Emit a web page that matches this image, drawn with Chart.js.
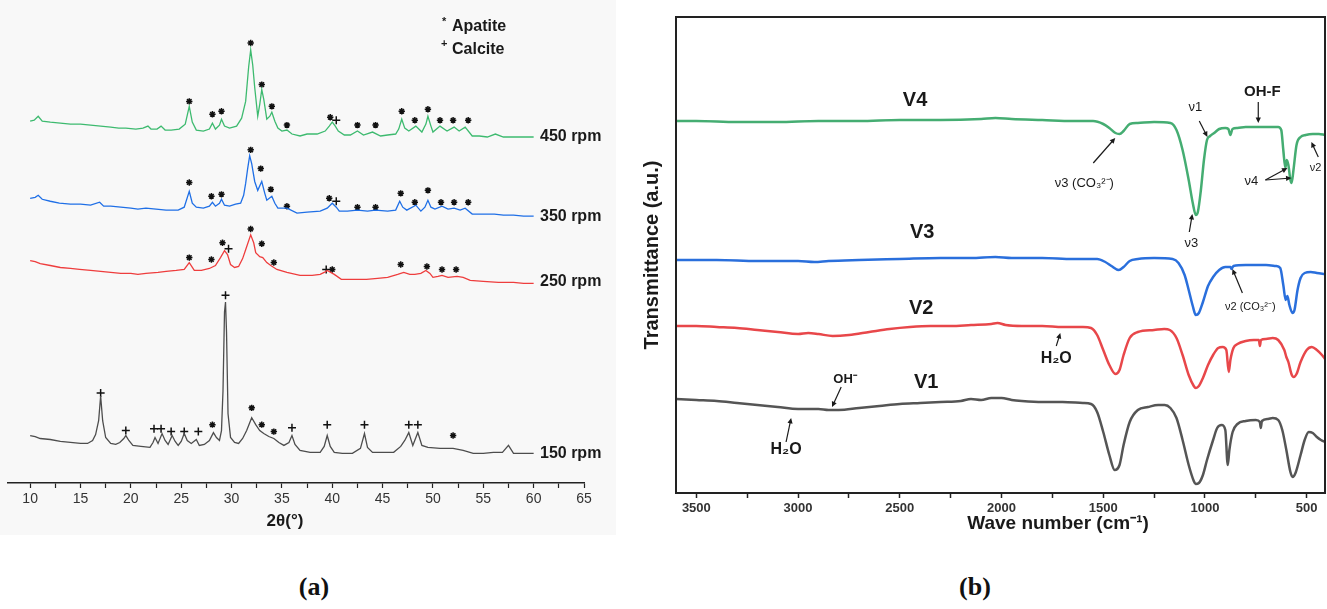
<!DOCTYPE html>
<html>
<head>
<meta charset="utf-8">
<script src="https://cdn.jsdelivr.net/npm/chart.js@4.4.1/dist/chart.umd.min.js"></script>
<style>
  body { margin:0; background:#fff; width:1327px; height:609px; position:relative; overflow:hidden; font-family:"Liberation Sans", Arial, sans-serif; }
  #xrdBg { position:absolute; left:0; top:0; width:616px; height:535px; background:#f8f8f8; }
  #xrd { position:absolute; left:0; top:0; }
  #ftir { position:absolute; left:630px; top:0; }
  .cap { position:absolute; top:572px; width:100px; text-align:center; font:bold 26px "Liberation Serif", "Times New Roman", serif; color:#111; }
</style>
</head>
<body>
<div id="xrdBg"></div>
<canvas id="xrd" width="620" height="540"></canvas>
<canvas id="ftir" width="697" height="540"></canvas>
<div class="cap" style="left:264px">(a)</div>
<div class="cap" style="left:925px">(b)</div>
<script>
// ---- (a) XRD patterns: [2theta, stacked intensity a.u.] ----
var xrd150 = [[10,48],[10.5,47],[11,45],[12,44],[13,42],[14,41],[15,40],[15.7,40],[16.2,43],[16.5,49],[16.8,63],[17,88],[17.2,63],[17.5,46],[18,40],[18.5,39],[18.9,41],[19.3,45],[19.5,48],[19.8,43],[20.2,38],[21,37],[21.9,36],[22.2,41],[22.4,46],[22.7,40],[23.1,50],[23.4,43],[23.7,39],[24.1,48],[24.4,42],[24.7,38],[25,42],[25.3,50],[25.6,43],[26,40],[26.5,44],[26.8,38],[27.3,39],[27.8,43],[28.2,51],[28.5,46],[28.8,43],[29,53],[29.15,93],[29.3,173],[29.4,183],[29.5,153],[29.65,70],[29.9,46],[30.3,41],[30.7,40],[31.1,45],[31.5,53],[32,66],[32.4,59],[32.8,53],[33.2,50],[33.7,47],[34.2,45],[34.7,41],[35.2,38],[35.7,41],[36,48],[36.3,39],[36.8,33],[37.8,31],[38.8,31],[39.2,37],[39.5,48],[39.8,37],[40.2,31],[41,30],[42,30],[42.8,35],[43.2,50],[43.5,36],[44,31],[45,31],[46.1,31],[46.8,37],[47.2,43],[47.6,51],[48,38],[48.5,51],[48.9,38],[49.5,36],[50.7,35],[52,35],[53,33],[54,30],[55,30],[56,31],[56.9,31],[57.5,38],[58,30],[59,30],[60,30]];
var xrd250 = [[10,225],[10.5,224],[11,222],[12,220],[13,218],[14,217],[14.9,216],[16,215],[17,214],[18,213],[19,212],[20,212],[20.7,211],[21.5,212],[22.7,213],[23.5,214],[24.5,215],[25.3,216],[25.8,223],[26.3,215],[27,215],[27.8,217],[28.4,220],[28.9,228],[29.3,235],[29.6,231],[29.9,221],[30.3,218],[30.7,219],[31.1,227],[31.4,236],[31.9,251],[32.2,243],[32.4,233],[32.8,229],[33.1,228],[33.5,223],[33.9,220],[34.5,216],[35.5,213],[36.8,210],[38,210],[38.8,211],[39.2,213],[39.5,215],[40.2,211],[40.9,206],[42,206],[43.4,206],[44.5,207],[45.5,208],[46.5,211],[47.1,213],[47.7,211],[48.2,211],[48.8,212],[49.3,215],[49.7,212],[50,208],[50.5,209],[50.9,210],[51.5,208],[52.4,209],[53,208],[53.7,205],[55,204],[56.5,203],[58,203],[59,202],[60,202]];
var xrd350 = [[10,288],[10.5,289],[10.8,291],[11.2,287],[12,285],[12.9,283],[14,282],[15,282],[16,281],[16.9,284],[17.3,280],[18,280],[19,279],[20,278],[20.7,277],[21.5,278],[22.5,277],[23.5,276],[24.7,276],[25.3,279],[25.8,295],[26.1,283],[26.5,279],[27.2,278],[27.8,280],[28.1,284],[28.4,280],[28.8,283],[29,287],[29.3,281],[29.8,280],[30.4,282],[30.9,283],[31.2,291],[31.4,303],[31.6,318],[31.8,331],[32,323],[32.3,305],[32.6,296],[33,305],[33.3,293],[33.5,286],[34,290],[34.3,283],[34.6,278],[35.5,278],[36.5,273],[37.5,274],[38.8,275],[39.5,278],[40,283],[40.4,279],[40.7,275],[41.5,275],[42.5,276],[43.5,275],[44.3,276],[45.5,275],[46.3,276],[46.7,285],[47,279],[47.4,276],[48.3,281],[48.8,275],[49.2,279],[49.5,286],[49.8,279],[50.2,277],[50.9,280],[51.5,277],[52.1,278],[52.7,276],[53.2,278],[53.9,272],[55,272],[56.1,272],[57,271],[58,271],[59,270],[60,270]];
var xrd450 = [[10,366],[10.4,367],[10.8,371],[11.2,366],[12,365],[13,364],[14,363],[15,363],[16,362],[17,361],[18,360],[18.8,359],[19.5,359],[20.5,358],[21.2,359],[21.7,361],[22,358],[22.6,358],[23,361],[23.4,357],[24,357],[24.8,358],[25.4,363],[25.8,381],[26.1,365],[26.5,357],[27.2,356],[27.8,358],[28.1,364],[28.4,358],[28.8,362],[29,368],[29.3,361],[29.8,359],[30.5,361],[31,369],[31.4,386],[31.7,421],[31.9,438],[32.1,423],[32.3,400],[32.6,371],[32.8,383],[33,398],[33.2,388],[33.5,368],[33.8,371],[34,375],[34.3,366],[34.6,359],[35,356],[35.5,357],[36,353],[36.8,351],[37.5,353],[38.5,353],[39.3,356],[39.7,361],[40,365],[40.3,361],[40.6,356],[41.2,352],[41.8,352],[42.5,356],[43.1,352],[44,355],[44.8,351],[45.5,352],[46.3,353],[46.6,358],[46.9,368],[47.2,359],[47.6,356],[48.3,361],[48.9,355],[49.3,363],[49.5,371],[49.8,361],[50,355],[50.7,361],[51.4,356],[52.1,360],[52.6,356],[53.2,360],[53.9,351],[54.6,351],[55.4,350],[56.2,353],[57,350],[58,350],[59,350],[60,350]];

// peak markers: * apatite, + calcite
var apatiteMarks = [[25.8,386],[28.1,373],[29,376],[31.9,445],[33,403],[34,381],[35.5,362],[39.8,370],[42.5,362],[44.3,362],[46.9,376],[48.2,367],[49.5,378],[50.7,367],[52,367],[53.5,367],
  [25.8,304],[28,290],[29,292],[31.9,337],[32.9,318],[33.9,297],[35.5,280],[39.7,288],[42.5,279],[44.3,279],[46.8,293],[48.2,284],[49.5,296],[50.8,284],[52.1,284],[53.5,284],
  [25.8,228],[28,226],[29.1,243],[31.9,257],[33,242],[34.2,223],[40,216],[46.8,221],[49.4,219],[50.9,216],[52.3,216],
  [28.1,59],[32,76],[33,59],[34.2,52],[52,48]];
var calciteMarks = [[40.4,367],[40.4,285],[29.7,237],[39.4,216],
  [17,91],[19.5,53],[22.3,55],[23,55],[24,52],[25.3,52],[26.7,52],[29.4,190],[36,56],[39.5,59],[43.2,59],[47.6,59],[48.5,59]];

var rpmLabels = ['450 rpm', '350 rpm', '250 rpm', '150 rpm'];
var rpmLevels = [350, 269, 204, 30];
var thetaTicks = [10,12.5,15,17.5,20,22.5,25,27.5,30,32.5,35,37.5,40,42.5,45,47.5,50,52.5,55,57.5,60,62.5,65];

// ---- (b) FTIR spectra: [wave number, transmittance a.u.] ----
var ftirV1 = [[3600,94],[3500,93],[3400,92],[3300,90],[3200,88],[3100,86],[3000,84],[2900,84],[2850,83],[2800,83],[2700,85],[2600,87],[2500,89],[2400,90],[2300,91],[2200,92],[2150,94],[2100,93],[2050,95],[2000,95],[1950,93],[1900,92],[1800,91],[1700,91],[1600,90],[1560,89],[1530,81],[1500,61],[1470,38],[1444,23],[1420,28],[1400,48],[1370,71],[1330,83],[1280,86],[1230,88],[1198,88],[1170,85],[1140,75],[1110,53],[1080,28],[1055,12],[1046,9],[1030,10],[1010,18],[990,33],[960,53],[940,65],[918,68],[900,63],[888,28],[880,43],[864,61],[840,69],[800,72],[750,73],[730,71],[726,65],[720,72],[690,74],[667,75],[640,73],[620,63],[600,43],[580,21],[569,16],[555,20],[530,38],[510,53],[490,61],[470,60],[450,56],[430,53],[410,51]];
var ftirV2 = [[3600,167],[3500,167],[3400,166],[3300,165],[3200,163],[3100,161],[3000,159],[2950,160],[2900,159],[2830,157],[2750,158],[2650,161],[2550,164],[2450,166],[2350,167],[2250,167],[2150,168],[2050,169],[2020,170],[1980,168],[1900,167],[1800,167],[1700,166],[1600,166],[1560,165],[1530,158],[1500,143],[1470,128],[1440,119],[1420,123],[1400,138],[1370,155],[1330,161],[1250,163],[1200,164],[1173,163],[1140,155],[1110,138],[1080,118],[1055,107],[1045,105],[1030,107],[1010,115],[985,128],[960,138],[935,145],[913,146],[895,143],[883,121],[875,133],[860,145],[840,149],[800,152],[760,153],[735,153],[730,147],[725,153],[700,154],[667,155],[640,153],[610,143],[600,136],[590,131],[575,119],[564,116],[550,119],[530,131],[500,143],[475,146],[450,143],[425,138],[410,134]];
var ftirV3 = [[3600,233],[3400,233],[3200,232],[3000,232],[2920,231],[2850,232],[2700,233],[2500,234],[2300,235],[2150,235],[2030,236],[1950,235],[1800,235],[1650,234],[1530,234],[1490,231],[1460,227],[1424,223],[1400,226],[1370,232],[1330,234],[1250,235],[1159,234],[1130,230],[1100,218],[1080,203],[1060,187],[1045,178],[1030,180],[1010,191],[985,207],[960,216],[930,223],[900,226],[874,226],[870,224],[860,227],[800,228],[760,228],[700,228],[652,227],[630,225],[615,208],[603,193],[595,197],[585,188],[570,180],[560,183],[545,203],[530,215],[510,220],[480,221],[450,220],[410,219]];
var ftirV4 = [[3600,372],[3500,372],[3300,371],[3100,371],[2900,372],[2700,372],[2500,373],[2300,373],[2100,374],[2030,375],[1950,374],[1800,373],[1650,372],[1550,372],[1500,369],[1470,365],[1440,360],[1420,359],[1400,362],[1370,369],[1330,370],[1250,371],[1170,370],[1140,363],[1110,343],[1080,313],[1060,290],[1045,278],[1035,281],[1020,303],[1005,333],[990,353],[975,357],[955,360],[930,364],[900,365],[885,364],[875,358],[865,364],[840,365],[800,366],[700,366],[640,366],[625,363],[615,343],[605,325],[598,333],[590,328],[580,313],[574,310],[565,323],[550,348],[530,356],[505,358],[470,359],[440,359],[410,358]];

var sampleLabels = ['V4', 'V3', 'V2', 'V1'];
var sampleLabelPos = [[2425,393],[2390,261],[2395,185],[2370,111]];
var wnTicks = [3500,3250,3000,2750,2500,2250,2000,1750,1500,1250,1000,750,500];

// band annotations: text at [wn,T], arrows from tail to tip
var bands = [
  { text:'ν3 (CO₃²⁻)', at:[1593,310], font:'13px', arrows:[[[1549,330],[1441,355]]] },
  { text:'ν3', at:[1067,250], font:'13px', arrows:[[[1077,261],[1062,279]]] },
  { text:'ν1', at:[1047,386], font:'13px', arrows:[[[1028,372],[988,356]]] },
  { text:'OH-F', at:[718,401], font:'bold 15px', arrows:[[[738,391],[738,370]]] },
  { text:'ν4', at:[772,312], font:'13px', arrows:[[[703,313],[595,325]],[[703,313],[575,315]]] },
  { text:'ν2', at:[457,325], font:'11px', arrows:[[[443,336],[477,351]]] },
  { text:'ν2 (CO₃²⁻)', at:[777,186], font:'11px', arrows:[[[816,200],[865,224]]] },
  { text:'H₂O', at:[1731,134], font:'bold 16px', arrows:[[[1731,147],[1711,160]]] },
  { text:'OH⁻', at:[2769,114], font:'bold 13px', arrows:[[[2788,106],[2833,86]]] },
  { text:'H₂O', at:[3059,43], font:'bold 16px', arrows:[[[3059,51],[3034,75]]] }
];

var FONT = '"Liberation Sans", Arial, sans-serif';

function pts(a){ return a.map(function(p){ return { x:p[0], y:p[1] }; }); }
function trace(a, color, width){
  return { data:pts(a), showLine:true, borderColor:color, borderWidth:width, pointRadius:0, tension:0, fill:false };
}

function arrow(c, x1, y1, x2, y2){
  var ang = Math.atan2(y2 - y1, x2 - x1), h = 6;
  c.beginPath(); c.moveTo(x1, y1); c.lineTo(x2 - Math.cos(ang) * 3, y2 - Math.sin(ang) * 3); c.stroke();
  c.beginPath();
  c.moveTo(x2, y2);
  c.lineTo(x2 - h * Math.cos(ang - 0.45), y2 - h * Math.sin(ang - 0.45));
  c.lineTo(x2 - h * Math.cos(ang + 0.45), y2 - h * Math.sin(ang + 0.45));
  c.closePath(); c.fill();
}

var xrdText = {
  id:'xrdText',
  afterDraw: function(chart){
    var c = chart.ctx, xs = chart.scales.x, ys = chart.scales.y;
    c.save();
    c.fillStyle = '#1a1a1a';
    c.textBaseline = 'middle';
    c.font = 'bold 16px ' + FONT;
    rpmLabels.forEach(function(t, i){ c.fillText(t, xs.getPixelForValue(60.63), ys.getPixelForValue(rpmLevels[i])); });
    // legend
    c.fillText('Apatite', 452, 27);
    c.fillText('Calcite', 452, 50);
    c.font = 'bold 11px ' + FONT;
    c.fillText('*', 442, 22);
    c.fillText('+', 441, 44);
    // axis title
    c.font = 'bold 17px ' + FONT;
    c.textAlign = 'center';
    c.fillText('2θ(°)', 285, 521);
    c.restore();
  }
};

var ftirText = {
  id:'ftirText',
  afterDraw: function(chart){
    var c = chart.ctx, xs = chart.scales.x, ys = chart.scales.y, a = chart.chartArea;
    c.save();
    c.strokeStyle = '#222'; c.lineWidth = 2;
    c.strokeRect(a.left, a.top, a.right - a.left, a.bottom - a.top);
    c.fillStyle = '#1a1a1a'; c.strokeStyle = '#1a1a1a'; c.lineWidth = 1.2;
    c.textAlign = 'center'; c.textBaseline = 'middle';
    c.font = 'bold 20px ' + FONT;
    sampleLabels.forEach(function(t, i){
      c.fillText(t, xs.getPixelForValue(sampleLabelPos[i][0]), ys.getPixelForValue(sampleLabelPos[i][1]));
    });
    bands.forEach(function(b){
      c.font = b.font + ' ' + FONT;
      c.fillText(b.text, xs.getPixelForValue(b.at[0]), ys.getPixelForValue(b.at[1]));
      b.arrows.forEach(function(ar){
        arrow(c, xs.getPixelForValue(ar[0][0]), ys.getPixelForValue(ar[0][1]),
                 xs.getPixelForValue(ar[1][0]), ys.getPixelForValue(ar[1][1]));
      });
    });
    c.font = 'bold 19px ' + FONT;
    c.fillText('Wave number (cm⁻¹)', 1058 - 630, 524);
    c.restore();
  }
};

new Chart(document.getElementById('xrd').getContext('2d'), {
  type:'scatter',
  data:{ datasets:[
    trace(xrd450, '#3dba6f', 1.3),
    trace(xrd350, '#1f6fe6', 1.3),
    trace(xrd250, '#ee3d3d', 1.3),
    trace(xrd150, '#4d4d4d', 1.3),
    { data:pts(apatiteMarks), pointStyle:'star', pointRadius:3.2, borderColor:'#111', pointBorderWidth:1.5, showLine:false },
    { data:pts(calciteMarks), pointStyle:'cross', pointRadius:4, borderColor:'#111', pointBorderWidth:1.5, showLine:false }
  ]},
  options:{
    responsive:false, animation:false, devicePixelRatio:1,
    layout:{ padding:{ left:8, right:36, top:0, bottom:0 } },
    plugins:{ legend:{ display:false }, tooltip:{ enabled:false } },
    scales:{
      x:{
        type:'linear', min:7.8, max:65,
        afterBuildTicks:function(s){ s.ticks = thetaTicks.map(function(v){ return { value:v }; }); },
        afterFit:function(s){ s.height = 57; },
        ticks:{ autoSkip:false, maxRotation:0, padding:3, color:'#333', font:{ family:FONT, size:14 },
                callback:function(v){ return v % 5 === 0 ? String(v) : ''; } },
        grid:{ drawOnChartArea:false, tickLength:5, tickColor:'#222', tickWidth:1.2 },
        border:{ display:true, color:'#222', width:1.5 }
      },
      y:{ display:false, min:0, max:483 }
    }
  },
  plugins:[xrdText]
});

new Chart(document.getElementById('ftir').getContext('2d'), {
  type:'scatter',
  data:{ datasets:[
    Object.assign(trace(ftirV4, '#45ad72', 2.5), { cubicInterpolationMode:'monotone' }),
    Object.assign(trace(ftirV3, '#2a6fdc', 2.5), { cubicInterpolationMode:'monotone' }),
    Object.assign(trace(ftirV2, '#e8474a', 2.5), { cubicInterpolationMode:'monotone' }),
    Object.assign(trace(ftirV1, '#555555', 2.5), { cubicInterpolationMode:'monotone' })
  ]},
  options:{
    responsive:false, animation:false, devicePixelRatio:1,
    layout:{ padding:{ left:0, right:2, top:17, bottom:0 } },
    plugins:{ legend:{ display:false }, tooltip:{ enabled:false } },
    scales:{
      x:{
        type:'linear', min:410, max:3600, reverse:true,
        afterBuildTicks:function(s){ s.ticks = wnTicks.map(function(v){ return { value:v }; }); },
        afterFit:function(s){ s.height = 47; },
        ticks:{ autoSkip:false, maxRotation:0, padding:3, color:'#333', font:{ family:FONT, size:13, weight:'bold' },
                callback:function(v){ return v % 500 === 0 ? String(v) : ''; } },
        grid:{ drawOnChartArea:false, tickLength:5, tickColor:'#222', tickWidth:1.5 },
        border:{ display:false }
      },
      y:{
        min:0, max:476,
        afterFit:function(s){ s.width = 46; },
        ticks:{ display:false },
        grid:{ display:false },
        border:{ display:false },
        title:{ display:true, text:'Transmittance (a.u.)', color:'#1a1a1a', padding:{ top:10, bottom:0 },
                font:{ family:FONT, size:20, weight:'bold' } }
      }
    }
  },
  plugins:[ftirText]
});
</script>
</body>
</html>
